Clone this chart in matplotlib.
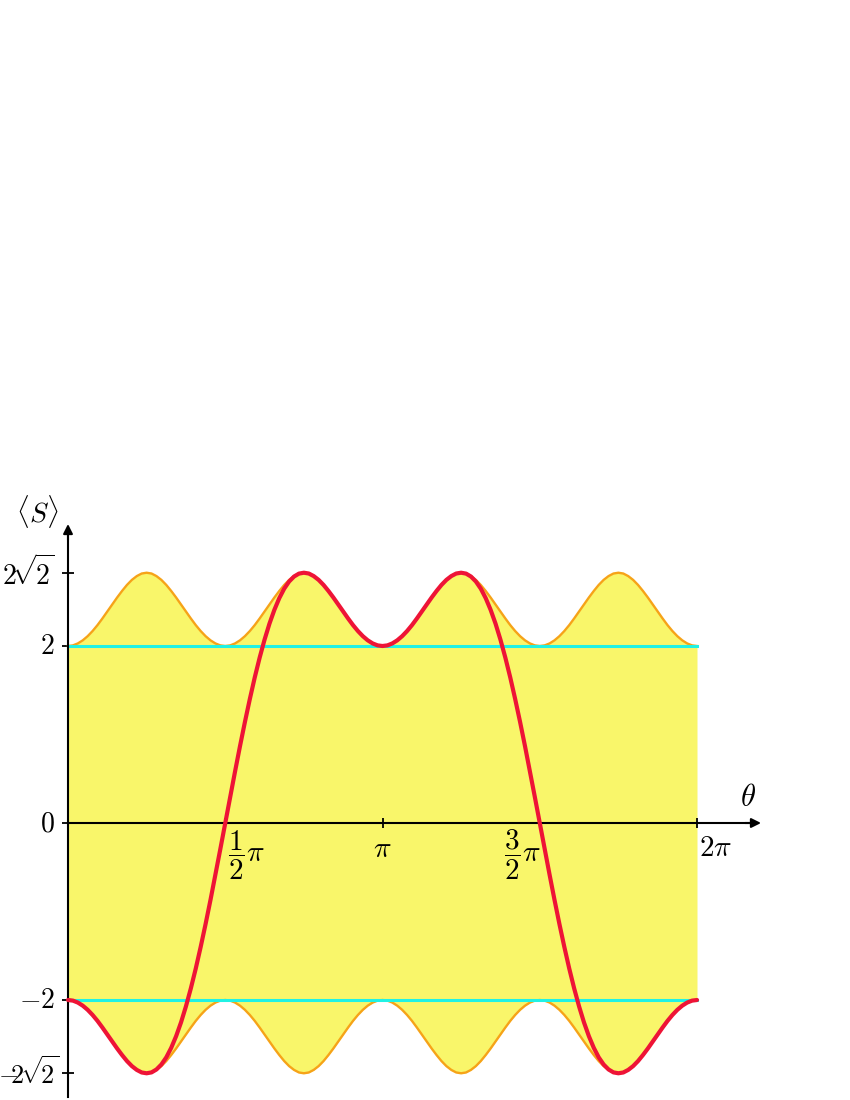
import numpy as np
import matplotlib.pyplot as plt

plt.rcParams['mathtext.fontset'] = 'cm'

# samples every pi/64 from 0 to 2*pi
theta = np.linspace(0, 2 * np.pi, 129)

# red curve <S>(theta)
s_curve = [
    -2.000, -2.007, -2.029, -2.064, -2.111, -2.169, -2.236, -2.311, -2.389,
    -2.469, -2.548, -2.622, -2.690, -2.747, -2.790, -2.819, -2.828,
    -2.818, -2.785, -2.729, -2.648, -2.541, -2.409, -2.253, -2.072,
    -1.868, -1.644, -1.400, -1.141, -0.868, -0.584, -0.294, 0.000,
    0.294, 0.584, 0.868, 1.141, 1.400, 1.644, 1.868, 2.072,
    2.253, 2.409, 2.541, 2.648, 2.729, 2.785, 2.818, 2.828,
    2.819, 2.790, 2.747, 2.690, 2.622, 2.548, 2.469, 2.389,
    2.311, 2.236, 2.169, 2.111, 2.064, 2.029, 2.007, 2.000,
    2.007, 2.029, 2.064, 2.111, 2.169, 2.236, 2.311, 2.389,
    2.469, 2.548, 2.622, 2.690, 2.747, 2.790, 2.819, 2.828,
    2.818, 2.785, 2.729, 2.648, 2.541, 2.409, 2.253, 2.072,
    1.868, 1.644, 1.400, 1.141, 0.868, 0.584, 0.294, 0.000,
    -0.294, -0.584, -0.868, -1.141, -1.400, -1.644, -1.868, -2.072,
    -2.253, -2.409, -2.541, -2.648, -2.729, -2.785, -2.818, -2.828,
    -2.819, -2.790, -2.747, -2.690, -2.622, -2.548, -2.469, -2.389,
    -2.311, -2.236, -2.169, -2.111, -2.064, -2.029, -2.007, -2.000]

# orange envelope (upper)
env_top = [
    2.000, 2.007, 2.029, 2.064, 2.111, 2.169, 2.236, 2.311, 2.389,
    2.469, 2.548, 2.622, 2.690, 2.747, 2.790, 2.819, 2.828,
    2.819, 2.790, 2.747, 2.690, 2.622, 2.548, 2.469, 2.389,
    2.311, 2.236, 2.169, 2.111, 2.064, 2.029, 2.007, 2.000,
    2.007, 2.029, 2.064, 2.111, 2.169, 2.236, 2.311, 2.389,
    2.469, 2.548, 2.622, 2.690, 2.747, 2.790, 2.819, 2.828,
    2.819, 2.790, 2.747, 2.690, 2.622, 2.548, 2.469, 2.389,
    2.311, 2.236, 2.169, 2.111, 2.064, 2.029, 2.007, 2.000,
    2.007, 2.029, 2.064, 2.111, 2.169, 2.236, 2.311, 2.389,
    2.469, 2.548, 2.622, 2.690, 2.747, 2.790, 2.819, 2.828,
    2.819, 2.790, 2.747, 2.690, 2.622, 2.548, 2.469, 2.389,
    2.311, 2.236, 2.169, 2.111, 2.064, 2.029, 2.007, 2.000,
    2.007, 2.029, 2.064, 2.111, 2.169, 2.236, 2.311, 2.389,
    2.469, 2.548, 2.622, 2.690, 2.747, 2.790, 2.819, 2.828,
    2.819, 2.790, 2.747, 2.690, 2.622, 2.548, 2.469, 2.389,
    2.311, 2.236, 2.169, 2.111, 2.064, 2.029, 2.007, 2.000]

# orange envelope (lower)
env_bot = [
    -2.000, -2.007, -2.029, -2.064, -2.111, -2.169, -2.236, -2.311, -2.389,
    -2.469, -2.548, -2.622, -2.690, -2.747, -2.790, -2.819, -2.828,
    -2.819, -2.790, -2.747, -2.690, -2.622, -2.548, -2.469, -2.389,
    -2.311, -2.236, -2.169, -2.111, -2.064, -2.029, -2.007, -2.000,
    -2.007, -2.029, -2.064, -2.111, -2.169, -2.236, -2.311, -2.389,
    -2.469, -2.548, -2.622, -2.690, -2.747, -2.790, -2.819, -2.828,
    -2.819, -2.790, -2.747, -2.690, -2.622, -2.548, -2.469, -2.389,
    -2.311, -2.236, -2.169, -2.111, -2.064, -2.029, -2.007, -2.000,
    -2.007, -2.029, -2.064, -2.111, -2.169, -2.236, -2.311, -2.389,
    -2.469, -2.548, -2.622, -2.690, -2.747, -2.790, -2.819, -2.828,
    -2.819, -2.790, -2.747, -2.690, -2.622, -2.548, -2.469, -2.389,
    -2.311, -2.236, -2.169, -2.111, -2.064, -2.029, -2.007, -2.000,
    -2.007, -2.029, -2.064, -2.111, -2.169, -2.236, -2.311, -2.389,
    -2.469, -2.548, -2.622, -2.690, -2.747, -2.790, -2.819, -2.828,
    -2.819, -2.790, -2.747, -2.690, -2.622, -2.548, -2.469, -2.389,
    -2.311, -2.236, -2.169, -2.111, -2.064, -2.029, -2.007, -2.000]

# classical bound lines
bound_levels = [2, -2]

xtick_vals = [0.5 * np.pi, np.pi, 1.5 * np.pi, 2 * np.pi]
xtick_labels = [r'$\dfrac{1}{2}\pi$', r'$\pi$', r'$\dfrac{3}{2}\pi$', r'$2\pi$']
ytick_vals = [2 * np.sqrt(2), 2, 0, -2, -2 * np.sqrt(2)]
ytick_labels = [r'$2\!\sqrt{\!2}$', r'$2$', r'$0$', r'$-2$', r'$-\!\!2\!\sqrt{\!2}$']
ytick_sizes = [20, 20, 20, 20, 19]
ytick_dx = [-13, -13, -13, -13, -9]

# colours
c_fill = '#f9f66a'
c_env = '#f6a318'
c_red = '#ee1436'
c_cyan = '#20f2e4'

fig = plt.figure(figsize=(8.5, 11), dpi=100)
ax = fig.add_axes([0, 0, 1, 1])

# pixel scale: x 0 -> 68px, 2pi -> 697px ; y 0 -> 823px, 2 -> 646px
sx = 629 / (2 * np.pi)
sy = 88.5
ax.set_xlim(-68 / sx, (850 - 68) / sx)
ax.set_ylim(-(1100 - 823) / sy, 823 / sy)

ax.fill_between(theta, env_bot, env_top, color=c_fill, lw=0, zorder=1)
ax.plot(theta, env_top, color=c_env, lw=1.7, zorder=2)
ax.plot(theta, env_bot, color=c_env, lw=1.7, zorder=2)
for lv in bound_levels:
    ax.plot([theta[0], theta[-1]], [lv, lv], color=c_cyan, lw=2.2, zorder=3)
ax.plot(theta, s_curve, color=c_red, lw=3, zorder=6, solid_capstyle='round')

# axes through the origin
for s in ['top', 'right']:
    ax.spines[s].set_visible(False)
ax.spines['left'].set_position(('data', 0))
ax.spines['bottom'].set_position(('data', 0))
ax.spines['left'].set_bounds(-(1097 - 823) / sy, (823 - 530) / sy)
ax.spines['bottom'].set_bounds(0, (755 - 68) / sx)
for s in ['left', 'bottom']:
    ax.spines[s].set_linewidth(1.5)
    ax.spines[s].set_zorder(5)

ax.annotate('', xy=(0, (823 - 524) / sy), xytext=(0, (823 - 540) / sy),
            arrowprops=dict(arrowstyle='-|>', color='black', lw=1.5,
                            mutation_scale=14, shrinkA=0, shrinkB=0), zorder=5)
ax.annotate('', xy=((761 - 68) / sx, 0), xytext=((745 - 68) / sx, 0),
            arrowprops=dict(arrowstyle='-|>', color='black', lw=1.5,
                            mutation_scale=14, shrinkA=0, shrinkB=0), zorder=5)

ax.set_xticks(xtick_vals)
ax.set_yticks(ytick_vals)
ax.tick_params(axis='x', direction='inout', length=7, width=1.3,
               labelbottom=False)
ax.tick_params(axis='y', direction='inout', length=9, width=1.3,
               labelleft=False)

x_offsets = [(3, -39), (0, -34), (1, -39), (2, -33)]
x_ha = ['left', 'center', 'right', 'left']
for v, lab, off, ha in zip(xtick_vals, xtick_labels, x_offsets, x_ha):
    ax.annotate(lab, xy=(v, 0), xytext=off, textcoords='offset pixels',
                ha=ha, va='baseline', fontsize=21, zorder=7)
for v, lab, fs, dx in zip(ytick_vals, ytick_labels, ytick_sizes, ytick_dx):
    ax.annotate(lab, xy=(0, v), xytext=(dx, 0), textcoords='offset pixels',
                ha='right', va='center', fontsize=fs, zorder=7)

ax.text((748 - 68) / sx, (823 - 797) / sy, r'$\theta$', fontsize=22,
        ha='center', va='center')
ax.text(-(68 - 37) / sx, (823 - 511) / sy, r'$\langle S\rangle$', fontsize=20,
        ha='center', va='center')

fig.savefig('out.png', dpi=100)
